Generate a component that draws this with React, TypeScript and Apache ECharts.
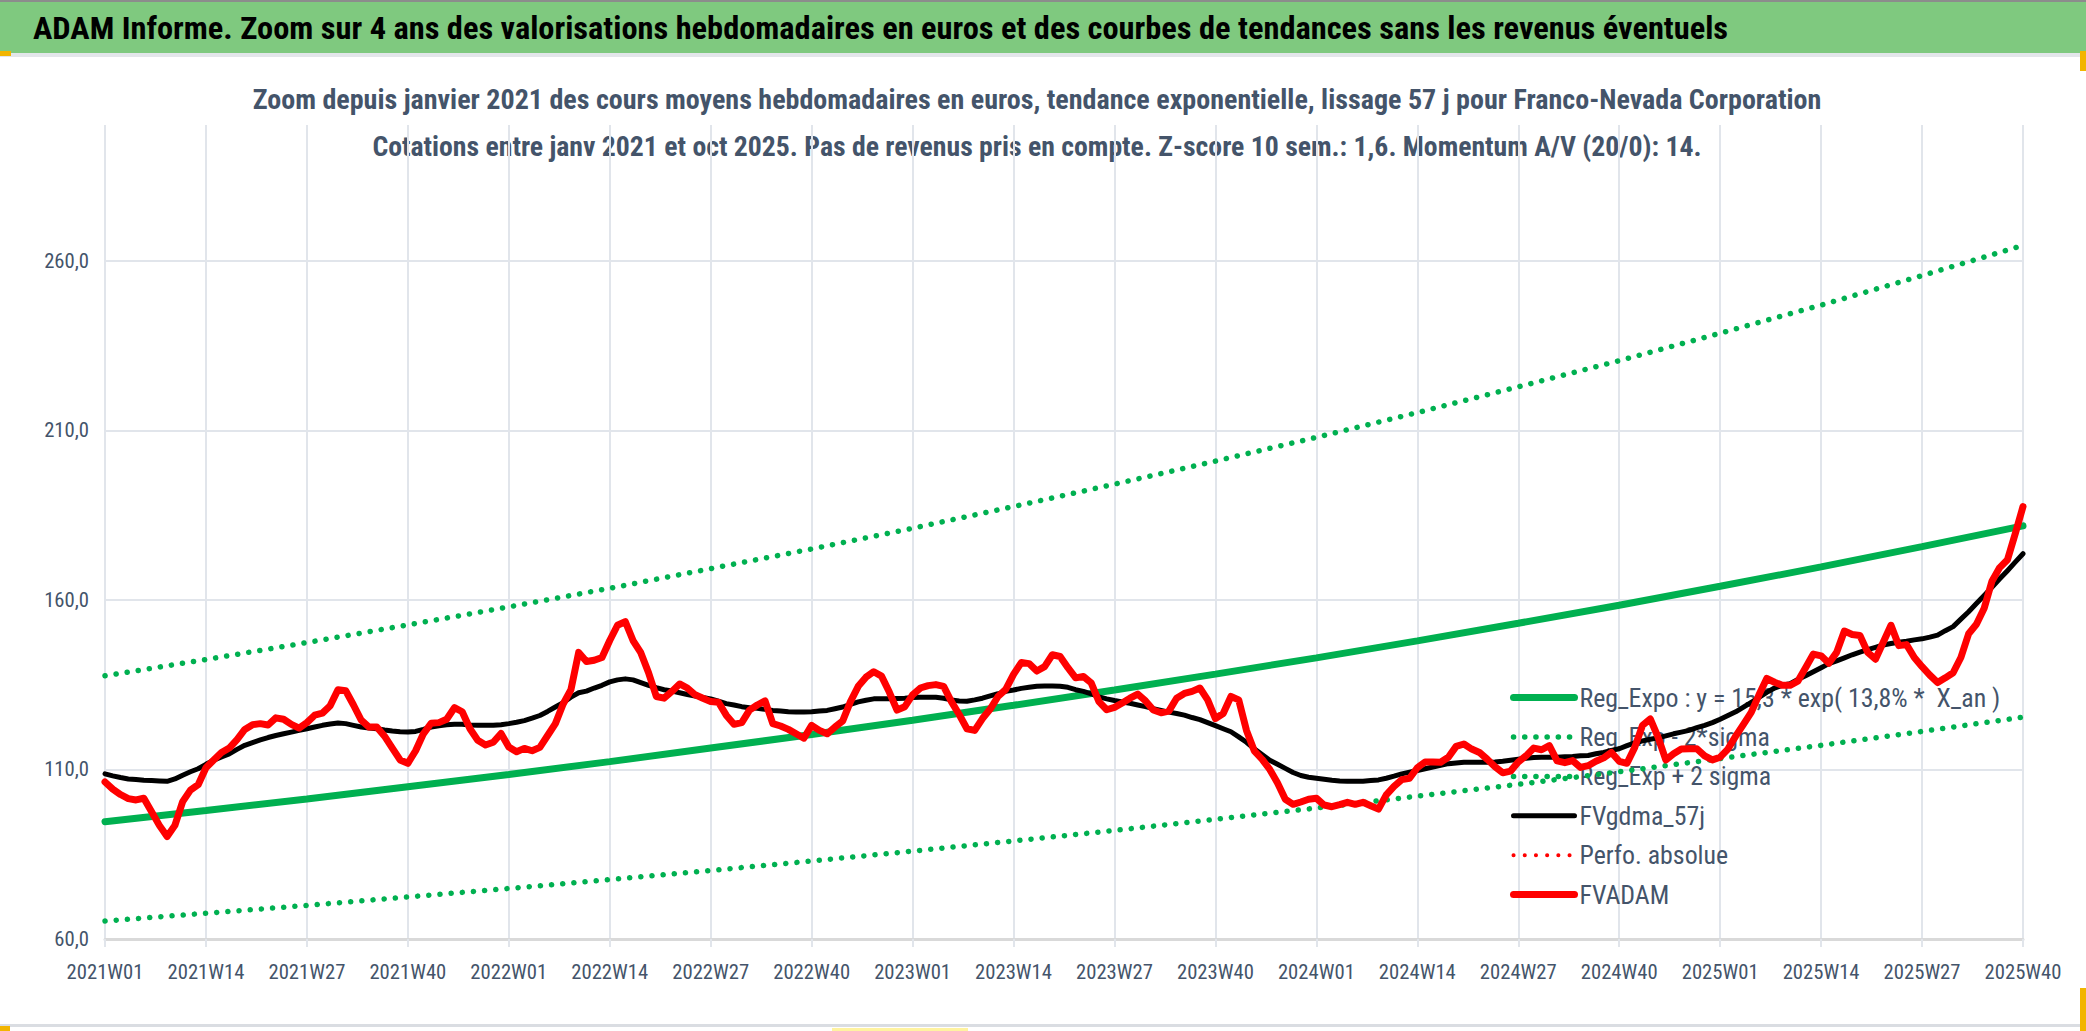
import { useEffect, useRef } from "react";
import * as echarts from "echarts";

// week categories 2021W01 .. 2025W40
const years = [2021, 2022, 2023, 2024, 2025];
const weeksPerYear = [52, 52, 52, 52, 40];
const weeks: string[] = [];
years.forEach((y, i) => {
  for (let w = 1; w <= weeksPerYear[i]; w++) weeks.push(`${y}W${String(w).padStart(2, "0")}`);
});

// FVADAM weekly average price (euros)
const fvadam = [
  106.3, 104.2, 102.6, 101.4, 101.0, 101.5, 97.5, 93.5, 90.2, 93.5, 100.5, 103.9, 105.5,
  110.5, 112.8, 115.0, 116.3, 118.8, 121.8, 123.2, 123.5, 123.1, 125.2, 124.8, 123.3, 122.2,
  123.8, 126.0, 126.6, 128.8, 133.5, 133.2, 129.0, 124.5, 122.5, 122.5, 119.8, 116.3, 112.8,
  111.8, 115.5, 120.5, 123.6, 123.8, 124.8, 128.2, 127.0, 122.0, 118.6, 117.2, 118.0, 120.6,
  116.6, 115.2, 116.2, 115.5, 116.5, 120.0, 123.5, 129.3, 133.5, 144.5, 141.8, 142.2, 143.0,
  148.0, 152.5, 153.6, 148.0, 144.4, 138.5, 131.5, 131.0, 133.0, 135.2, 134.0, 132.0, 131.0,
  130.0, 129.8, 126.0, 123.3, 123.8, 127.5, 129.0, 130.2, 123.5, 122.8, 121.8, 120.5, 119.2,
  123.0, 121.5, 120.5, 122.5, 124.3, 130.0, 134.5, 137.2, 138.8, 137.5, 132.8, 127.5, 128.5,
  132.0, 134.0, 134.7, 135.0, 134.5, 130.0, 126.2, 122.0, 121.5, 125.0, 127.8, 131.5, 133.6,
  138.0, 141.5, 141.2, 139.0, 140.3, 143.8, 143.3, 140.0, 137.0, 137.4, 135.5, 130.0, 127.6,
  128.3, 129.6, 131.0, 132.2, 130.2, 127.5, 126.7, 127.2, 131.0, 132.4, 133.0, 134.0, 130.5,
  125.0, 126.5, 131.5, 130.5, 121.5, 115.5, 113.0, 110.0, 106.0, 101.2, 99.7, 100.4, 101.2,
  101.5, 99.5, 99.0, 99.6, 100.3, 99.7, 100.3, 99.3, 98.3, 102.5, 105.0, 107.0, 107.4,
  110.5, 112.2, 112.2, 112.1, 113.6, 116.8, 117.5, 116.0, 115.0, 113.0, 110.8, 109.0, 109.5,
  112.2, 114.0, 116.3, 115.8, 117.0, 112.5, 112.0, 112.6, 110.6, 111.1, 112.4, 113.4, 115.0,
  112.4, 111.8, 116.5, 123.0, 124.9, 119.5, 112.8, 114.6, 116.0, 116.1, 116.1, 114.0, 112.8,
  113.6, 116.0, 119.8, 123.3, 126.8, 132.0, 136.8, 135.7, 134.8, 134.8, 136.0, 140.0, 144.0,
  143.5, 141.3, 144.5, 150.8, 149.8, 149.5, 144.5, 142.5, 147.5, 152.5, 146.5, 146.8, 143.0,
  140.3, 137.8, 135.6, 137.0, 138.5, 143.0, 150.0, 152.8, 157.5, 165.5, 169.5, 171.8, 179.5,
  187.5,
];

// FVgdma_57j smoothed average
const fvgdma = [
  108.7, 108.1, 107.6, 107.2, 107.0, 106.8, 106.7, 106.6, 106.5, 107.2, 108.3, 109.3, 110.2,
  111.5, 112.7, 113.7, 114.6, 115.9, 117.1, 117.9, 118.7, 119.4, 120.0, 120.5, 121.0, 121.5,
  122.0, 122.5, 123.0, 123.4, 123.7, 123.5, 123.0, 122.5, 122.2, 122.0, 121.6, 121.3, 121.1,
  121.0, 121.2, 121.8, 122.5, 122.9, 123.2, 123.3, 123.3, 123.1, 123.0, 123.0, 123.0, 123.2,
  123.5, 123.9, 124.4, 125.1, 125.9, 127.1, 128.4, 129.7, 131.3, 132.6, 133.1, 134.0, 134.8,
  135.8, 136.4, 136.7, 136.4, 135.6, 134.8, 134.1, 133.5, 133.1, 132.6, 132.1, 131.6, 131.2,
  130.8, 130.1, 129.4, 129.0, 128.5, 128.2, 128.0, 127.7, 127.4, 127.2, 127.0, 126.9, 126.9,
  127.0, 127.2, 127.4, 127.9, 128.4, 129.2, 129.9, 130.4, 130.8, 130.8, 130.8, 130.9, 131.0,
  131.2, 131.3, 131.3, 131.3, 131.0, 130.5, 130.2, 130.1, 130.5, 131.0, 131.7, 132.3, 133.0,
  133.4, 133.9, 134.2, 134.5, 134.6, 134.6, 134.5, 134.2, 133.5, 133.0, 132.3, 131.4, 130.8,
  130.3, 129.9, 129.5, 129.0, 128.5, 127.9, 127.4, 126.9, 126.5, 126.0, 125.3, 124.7, 123.8,
  122.9, 122.0, 121.1, 119.6, 118.0, 116.1, 114.4, 112.7, 111.5, 110.3, 109.1, 108.2, 107.7,
  107.4, 107.1, 106.8, 106.6, 106.5, 106.5, 106.5, 106.7, 106.9, 107.4, 108.0, 108.7, 109.2,
  109.7, 110.2, 110.7, 111.2, 111.7, 111.9, 112.1, 112.1, 112.1, 112.1, 112.2, 112.4, 112.7,
  113.0, 113.3, 113.5, 113.6, 113.6, 113.6, 113.7, 113.8, 114.0, 114.1, 114.6, 115.0, 115.6,
  116.1, 117.0, 117.8, 118.4, 118.9, 119.3, 119.9, 120.5, 121.0, 121.5, 122.3, 123.0, 123.8,
  124.8, 125.9, 127.0, 128.4, 129.8, 131.2, 132.7, 134.0, 134.8, 135.3, 136.5, 137.6, 138.8,
  140.0, 141.2, 142.0, 142.9, 143.8, 144.6, 145.3, 146.0, 146.7, 147.1, 147.5, 147.8, 148.2,
  148.5, 149.0, 149.6, 150.9, 152.1, 154.3, 156.5, 158.9, 161.3, 163.7, 166.2, 168.6, 171.1,
  173.6,
];

// exponential trend read at each labelled week
const trendWeeks = [
  "2021W01", "2021W14", "2021W27", "2021W40", "2022W01", "2022W14", "2022W27", "2022W40",
  "2023W01", "2023W14", "2023W27", "2023W40", "2024W01", "2024W14", "2024W27", "2024W40",
  "2025W01", "2025W14", "2025W27", "2025W40",
];
const trendMid = [
  94.6, 97.9, 101.3, 104.9, 108.5, 112.3, 116.3, 120.3, 124.5, 128.9,
  133.4, 138.1, 142.9, 147.9, 153.1, 158.4, 164.0, 169.7, 175.7, 181.8,
];
const trendUp = [
  137.6, 142.4, 147.4, 152.6, 157.9, 163.4, 169.2, 175.0, 181.1, 187.5,
  194.1, 200.9, 207.9, 215.2, 222.8, 230.5, 238.6, 246.9, 255.6, 264.5,
];
const trendLow = [
  65.3, 67.6, 69.9, 72.4, 74.9, 77.5, 80.2, 83.0, 85.9, 88.9,
  92.0, 95.3, 98.6, 102.1, 105.6, 109.3, 113.2, 117.1, 121.2, 125.4,
];

const seriesNames = [
  "Reg_Expo : y = 15,3 * exp( 13,8% *  X_an )",
  "Reg_Exp - 2*sigma",
  "Reg_Exp + 2 sigma",
  "FVgdma_57j",
  "Perfo. absolue",
  "FVADAM",
];

const mainTitle =
  "ADAM Informe. Zoom sur 4 ans des valorisations hebdomadaires en euros et des courbes de tendances sans les revenus éventuels";
const subTitle1 =
  "Zoom depuis janvier 2021 des cours moyens hebdomadaires en euros, tendance exponentielle, lissage 57 j pour Franco-Nevada Corporation";
const subTitle2 =
  "Cotations entre janv 2021 et oct 2025. Pas de revenus pris en compte. Z-score 10 sem.: 1,6. Momentum A/V (20/0): 14.";

const GREEN = "#00B050";
const RED = "#FF0000";
const SLATE = "#44546A";
const GRID = "#E1E5EB";

const ctx = document.createElement("canvas").getContext("2d")!;
function measure(text: string, weight: string, size: number, family: string) {
  ctx.font = `${weight} ${size}px "${family}", sans-serif`;
  return ctx.measureText(text).width;
}
function hasFont(name: string) {
  const s = "abcdefghijklmnopqrstuvwxyz0123456789";
  ctx.font = "40px monospace";
  const a = ctx.measureText(s).width;
  ctx.font = `40px "${name}", monospace`;
  return ctx.measureText(s).width !== a;
}

export default function App() {
  const ref = useRef<HTMLDivElement>(null);

  useEffect(() => {
    if (!ref.current) return;
    const font = ["Roboto Condensed", "DejaVu Sans Condensed", "Roboto"].find((c) => hasFont(c)) || "Roboto";

    const chart = echarts.init(ref.current, undefined, { renderer: "svg" });

    // fit texts to the widths measured on the reference
    const titleScale = 1696 / measure(mainTitle, "bold", 32, font);
    const sub1Scale = 1569 / measure(subTitle1, "bold", 27, font);
    const sub2Scale = 1330 / measure(subTitle2, "bold", 27, font);
    const legendSize = Math.min(28, (22 * 421) / measure(seriesNames[0], "normal", 22, font));
    const axisSize = Math.min(24, (20 * 77) / measure("2021W01", "normal", 20, font));
    const legendItemH = legendSize * 1.04;

    const dotted = (color: string, width: number) => ({
      color,
      width,
      type: [0.1, 11.1] as number[],
      cap: "round" as const,
    });
    const styles = [
      { color: GREEN, width: 7, cap: "round" as const },
      dotted(GREEN, 5.5),
      dotted(GREEN, 5.5),
      { color: "#000000", width: 5, join: "round" as const, cap: "round" as const },
      dotted(RED, 4),
      { color: RED, width: 7, join: "round" as const, cap: "round" as const },
    ];
    const trendSeries = (i: number, vals: number[]) => ({
      name: seriesNames[i],
      type: "line" as const,
      data: trendWeeks.map((w, k) => [w, vals[k]]),
      symbol: "none",
      lineStyle: styles[i],
      itemStyle: { color: styles[i].color },
      z: 2,
    });

    chart.setOption({
      animation: false,
      backgroundColor: "#FFFFFF",
      textStyle: { fontFamily: font },
      grid: { left: 105, right: 63, top: 125, bottom: 92 },
      legend: {
        orient: "vertical",
        left: 1505,
        top: 693 - legendItemH / 2,
        itemWidth: 61,
        itemHeight: 14,
        itemGap: 40.3 - legendItemH,
        z: 1,
        itemStyle: { opacity: 0 },
        data: seriesNames.map((name, i) => ({
          name,
          lineStyle: { width: styles[i].width, type: styles[i].type ?? "solid", cap: "round" },
        })),
        textStyle: { color: SLATE, fontSize: legendSize, fontFamily: font },
      },
      xAxis: {
        type: "category",
        data: weeks,
        boundaryGap: false,
        axisLine: { lineStyle: { color: "#D9D9D9", width: 3 } },
        axisTick: { show: true, interval: 12, length: 8, lineStyle: { color: GRID, width: 2 } },
        axisLabel: { interval: 12, color: SLATE, fontSize: axisSize, margin: 22, fontFamily: font },
        splitLine: { show: true, interval: 12, lineStyle: { color: GRID, width: 2 } },
      },
      yAxis: {
        type: "value",
        min: 60,
        max: 300,
        interval: 10,
        axisLine: { show: false },
        axisTick: { show: false },
        axisLabel: {
          color: SLATE,
          fontSize: axisSize,
          margin: 16,
          fontFamily: font,
          formatter: (v: number) => ((v - 60) % 50 === 0 && v < 300 ? v.toFixed(1).replace(".", ",") : ""),
        },
        splitLine: {
          lineStyle: { color: [GRID, "rgba(0,0,0,0)", "rgba(0,0,0,0)", "rgba(0,0,0,0)", "rgba(0,0,0,0)"], width: 2 },
        },
      },
      series: [
        trendSeries(0, trendMid),
        trendSeries(1, trendLow),
        trendSeries(2, trendUp),
        {
          name: seriesNames[3],
          type: "line",
          data: fvgdma,
          symbol: "none",
          lineStyle: styles[3],
          itemStyle: { color: "#000000" },
          z: 3,
        },
        {
          name: seriesNames[4],
          type: "line",
          data: [],
          symbol: "none",
          lineStyle: styles[4],
          itemStyle: { color: RED },
        },
        {
          name: seriesNames[5],
          type: "line",
          data: fvadam,
          symbol: "none",
          lineStyle: styles[5],
          itemStyle: { color: RED },
          z: 4,
        },
      ],
      graphic: [
        { type: "rect", shape: { x: 0, y: 0, width: 2086, height: 53 }, style: { fill: "#7FC97F" }, silent: true },
        { type: "rect", shape: { x: 0, y: 0, width: 2086, height: 2 }, style: { fill: "#8C8C8C" }, silent: true },
        { type: "rect", shape: { x: 0, y: 53, width: 2086, height: 4 }, style: { fill: "#E3E6EA" }, silent: true },
        { type: "rect", shape: { x: 0, y: 51, width: 11, height: 5 }, style: { fill: "#F2B500" }, silent: true },
        { type: "rect", shape: { x: 2080, y: 51, width: 6, height: 20 }, style: { fill: "#F2B500" }, silent: true },
        { type: "rect", shape: { x: 0, y: 1024, width: 2086, height: 3 }, style: { fill: "#DADDE2" }, silent: true },
        { type: "rect", shape: { x: 0, y: 1026, width: 10, height: 5 }, style: { fill: "#F2B500" }, silent: true },
        { type: "rect", shape: { x: 2080, y: 988, width: 6, height: 43 }, style: { fill: "#F2B500" }, silent: true },
        { type: "rect", shape: { x: 832, y: 1028, width: 136, height: 3 }, style: { fill: "#FFF3A0" }, silent: true },
        {
          type: "text",
          x: 33,
          y: 28,
          scaleX: titleScale,
          style: { text: mainTitle, fill: "#000000", fontSize: 32, fontWeight: "bold", fontFamily: font, verticalAlign: "middle" },
        },
        {
          type: "text",
          x: 1037,
          y: 100,
          scaleX: sub1Scale,
          style: { text: subTitle1, fill: SLATE, fontSize: 27, fontWeight: "bold", fontFamily: font, align: "center", verticalAlign: "middle" },
        },
        {
          type: "text",
          x: 1037,
          y: 147,
          scaleX: sub2Scale,
          style: { text: subTitle2, fill: SLATE, fontSize: 27, fontWeight: "bold", fontFamily: font, align: "center", verticalAlign: "middle" },
        },
      ],
    });

    return () => chart.dispose();
  }, []);

  return <div ref={ref} style={{ position: "fixed", left: 0, top: 0, width: 2086, height: 1031 }} />;
}
